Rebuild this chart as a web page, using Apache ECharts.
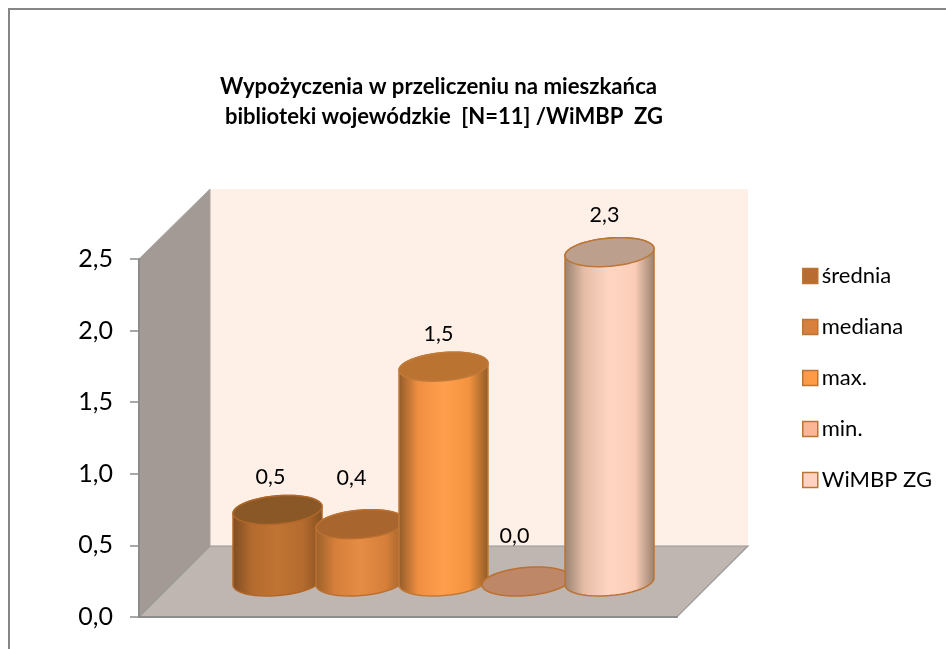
<!DOCTYPE html>
<html>
<head>
<meta charset="utf-8">
<style>html,body{margin:0;padding:0;background:#fff}#c{width:946px;height:649px}</style>
<script src="https://cdn.jsdelivr.net/npm/echarts@6/dist/echarts.min.js"></script>
</head>
<body>
<div id="c"></div>
<script>
var categories = [''];
var seriesNames = ['średnia', 'mediana', 'max.', 'min.', 'WiMBP ZG'];
var sredniaValues = [0.5];
var medianaValues = [0.4];
var maxValues = [1.5];
var minValues = [0.0];
var wimbpValues = [2.3];
var seriesValues = [sredniaValues, medianaValues, maxValues, minValues, wimbpValues];
var yTickLabels = ['0,0', '0,5', '1,0', '1,5', '2,0', '2,5'];
var chartTitleLines = ['Wypożyczenia w przeliczeniu na mieszkańca', 'biblioteki wojewódzkie  [N=11] /WiMBP  ZG'];

var FONT = 'Lato';
var G = {left: 139, top: 259, width: 538, height: 358};
var DEPTH = {x: 71, y: -71};
var SPACING = 83 / 538, BARW = 89 / 538;
var STROKE = '#bb7433';
var styles = [
  {legend: '#b96c2f', stops: ['#7d4c22', '#b56b2e', '#bf7433', '#b56b2e', '#84501f'], top: '#8a5826', stroke: '#b0672a'},
  {legend: '#d9813c', stops: ['#9a6029', '#d67f3a', '#e58c45', '#d67f3a', '#9a6029'], top: '#a8652d', stroke: '#bb7030'},
  {legend: '#ff9a47', stops: ['#8f5a28', '#f08f42', '#ff9e4c', '#f4933f', '#8f5a28'], top: '#bb7332', stroke: '#c07a38'},
  {legend: '#fbb795', stops: ['#a08068', '#e8b090', '#fbb795', '#e8b090', '#a08068'], top: '#bd8768', stroke: '#bb7030'},
  {legend: '#ffd3bf', stops: ['#97806f', '#e5bda7', '#ffd6c2', '#fbcdb8', '#97806f'], top: '#bd9f8e', stroke: '#bb7433'}
];
var labelShift = [[-7, -18], [-9, -32], [-5, -18], [-12, -31], [-5, -23]];

function ellipsePoint(cx, cy, a, b, c, t) {
  return [cx + a * Math.cos(t) + b * Math.sin(t), cy - c * Math.sin(t)];
}
function renderBar(params, api) {
  var i = params.seriesIndex;
  var st = styles[i];
  var v = api.value(1);
  var band = api.size([1, 0])[0];
  var front0 = api.coord([api.value(0), 0]);
  var frontV = api.coord([api.value(0), v]);
  var cx = front0[0] + (i - 2) * SPACING * band + DEPTH.x / 2;
  var by = front0[1] + DEPTH.y / 2;
  var ty = frontV[1] + DEPTH.y / 2;
  var half = BARW * band / 2;
  var C = 14.5;
  var t0 = 0.242;
  var A = half * Math.cos(t0), B = half * Math.sin(t0);
  var n = 48, k, t;
  var top = [];
  for (k = 0; k < n; k++) top.push(ellipsePoint(cx, ty, A, B, C, 2 * Math.PI * k / n));
  var body = [];
  for (k = 0; k <= n / 2; k++) {
    t = t0 - Math.PI * k / (n / 2);
    body.push(ellipsePoint(cx, by, A, B, C, t));
  }
  for (k = 0; k <= n / 2; k++) {
    t = t0 - Math.PI + Math.PI * k / (n / 2) * -1;
    body.push(ellipsePoint(cx, ty, A, B, C, t));
  }
  var s = labelShift[i];
  var children = [];
  if (v > 0) {
    children.push({
      type: 'polygon', shape: {points: body},
      style: {
        fill: new echarts.graphic.LinearGradient(0, 0, 1, 0, [
          {offset: 0, color: st.stops[0]}, {offset: 0.22, color: st.stops[1]},
          {offset: 0.5, color: st.stops[2]}, {offset: 0.78, color: st.stops[3]},
          {offset: 1, color: st.stops[4]}
        ]),
        stroke: st.stroke, lineWidth: 1.5
      }
    });
  }
  children.push({
    type: 'polygon', shape: {points: top},
    style: {fill: st.top, stroke: st.stroke, lineWidth: 1.5}
  });
  children.push({
    type: 'text',
    style: {
      x: cx + s[0], y: ty - C + s[1], text: v.toFixed(1).replace('.', ','),
      fill: '#000', font: '21.5px ' + FONT, align: 'center', verticalAlign: 'middle'
    }
  });
  return {type: 'group', children: children};
}

var F = {x0: G.left, x1: G.left + G.width, y0: G.top, y1: G.top + G.height};
var graphicEls = [
  {type: 'polyline', z: 0, shape: {points: [[9, 649], [9, 9], [946, 9]]}, style: {fill: null, stroke: '#868686', lineWidth: 2}},
  {type: 'rect', z: 0, shape: {x: F.x0 + DEPTH.x, y: F.y0 + DEPTH.y + 1, width: G.width, height: G.height}, style: {fill: '#feefe7'}},
  {type: 'polygon', z: 0, shape: {points: [[F.x0, F.y0], [F.x0 + DEPTH.x, F.y0 + DEPTH.y + 1], [F.x0 + DEPTH.x, F.y1 + DEPTH.y], [F.x0, F.y1]]},
    style: {fill: '#a39a96', stroke: '#a8a5a3', lineWidth: 1}},
  {type: 'polygon', z: 0, shape: {points: [[F.x0, F.y1], [F.x1, F.y1], [F.x1 + DEPTH.x, F.y1 + DEPTH.y], [F.x0 + DEPTH.x, F.y1 + DEPTH.y]]},
    style: {fill: '#bfb5b1', stroke: '#999999', lineWidth: 1.2}}
];

var series = seriesNames.map(function (name, i) {
  return {
    name: name, type: 'custom', coordinateSystem: 'cartesian2d', clip: false,
    renderItem: renderBar,
    itemStyle: {color: styles[i].legend, borderColor: STROKE, borderWidth: 1.5},
    encode: {x: 0, y: 1},
    data: seriesValues[i].map(function (v, j) { return [j, v]; }),
    z: 2 + i
  };
});

var chart = echarts.init(document.getElementById('c'), null, {renderer: 'canvas'});
chart.setOption({
  animation: false,
  backgroundColor: '#ffffff',
  title: [
    {text: chartTitleLines[0], left: 220, top: 76, textStyle: {fontFamily: FONT, fontSize: 22.2, fontWeight: 'bold', color: '#000'}, padding: 0},
    {text: chartTitleLines[1], left: 225, top: 106, textStyle: {fontFamily: FONT, fontSize: 22, fontWeight: 'bold', color: '#000'}, padding: 0}
  ],
  legend: {
    orient: 'vertical', left: 802, top: 265, itemWidth: 15, itemHeight: 15, itemGap: 29,
    icon: 'rect', selectedMode: false, padding: 0,
    textStyle: {fontFamily: FONT, fontSize: 22, color: '#000', padding: [0, 0, 0, -1], lineHeight: 22},
    data: seriesNames.map(function (n, i) {
      return {name: n, itemStyle: {color: styles[i].legend, borderColor: STROKE, borderWidth: 1.5}};
    })
  },
  grid: {left: G.left, top: G.top, width: G.width, height: G.height, containLabel: false},
  xAxis: {
    type: 'category', data: categories,
    axisLine: {show: true, lineStyle: {color: '#8c8c8c', width: 2}},
    axisTick: {show: false}, axisLabel: {show: false}, splitLine: {show: false}
  },
  yAxis: {
    type: 'value', min: 0, max: 2.5, interval: 0.5,
    axisLine: {show: true, lineStyle: {color: '#8c8c8c', width: 2}},
    axisTick: {show: true, length: 9, lineStyle: {color: '#8c8c8c', width: 1.5}},
    splitLine: {show: false},
    axisLabel: {
      margin: 26, fontFamily: FONT, fontSize: 25, color: '#000',
      formatter: function (v) { return yTickLabels[Math.round(v * 2)]; }
    }
  },
  graphic: {elements: graphicEls},
  series: series
});
</script>
</body>
</html>
